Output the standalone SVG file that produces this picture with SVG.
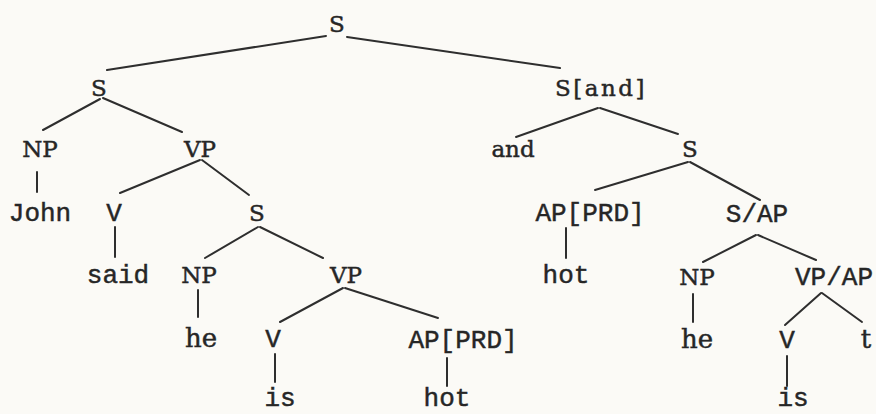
<svg xmlns="http://www.w3.org/2000/svg" width="876" height="414" viewBox="0 0 876 414">
<style>
.bg{fill:#fbfaf6}
text{fill:#262626;stroke:#262626;stroke-width:0.45;text-anchor:middle}
.s{font-family:"DejaVu Serif","Liberation Serif",serif;font-size:23px}
.sl{font-family:"DejaVu Serif","Liberation Serif",serif;font-size:26px}
.m{font-family:"Liberation Mono","DejaVu Sans Mono",monospace;font-size:26px}
#edges line{stroke:#2e2e2e;stroke-width:2;stroke-linecap:round}
</style>
<rect class="bg" x="0" y="0" width="876" height="414"/>
<g id="edges">
<line x1="326" y1="36" x2="107" y2="70"/>
<line x1="347" y1="37" x2="560" y2="68"/>
<line x1="100" y1="99" x2="43" y2="130"/>
<line x1="103" y1="98" x2="182" y2="132"/>
<line x1="598" y1="108" x2="516" y2="137"/>
<line x1="600" y1="108" x2="678" y2="134"/>
<line x1="37" y1="172" x2="37" y2="192"/>
<line x1="200" y1="160" x2="120" y2="193"/>
<line x1="202" y1="160" x2="249" y2="195"/>
<line x1="688" y1="162" x2="595" y2="190"/>
<line x1="690" y1="162" x2="760" y2="200"/>
<line x1="115" y1="227" x2="115" y2="257"/>
<line x1="258" y1="227" x2="205" y2="258"/>
<line x1="260" y1="227" x2="323" y2="258"/>
<line x1="566" y1="228" x2="566" y2="258"/>
<line x1="756" y1="235" x2="703" y2="262"/>
<line x1="758" y1="235" x2="816" y2="260"/>
<line x1="198" y1="290" x2="198" y2="317"/>
<line x1="343" y1="288" x2="280" y2="322"/>
<line x1="345" y1="288" x2="438" y2="318"/>
<line x1="693" y1="294" x2="693" y2="322"/>
<line x1="821" y1="293" x2="785" y2="325"/>
<line x1="822" y1="293" x2="862" y2="322"/>
<line x1="275" y1="354" x2="275" y2="382"/>
<line x1="447" y1="358" x2="447" y2="386"/>
<line x1="787" y1="356" x2="787" y2="386"/>
</g>
<g id="n-S-root"><text class="s" x="337" y="32">S</text></g>
<g id="n-S-left"><text class="s" x="99" y="96">S</text></g>
<g id="n-S-and"><text class="s" x="601" y="96" letter-spacing="2.5">S[and]</text></g>
<g id="n-NP-1"><text class="s" x="40" y="157">NP</text></g>
<g id="n-VP-1"><text class="s" x="200" y="157">VP</text></g>
<g id="n-and"><text class="s" x="513" y="157">and</text></g>
<g id="n-S-r3"><text class="s" x="690" y="157">S</text></g>
<g id="n-John"><text class="m" x="40" y="221">John</text></g>
<g id="n-V-1"><text class="m" x="114" y="221">V</text></g>
<g id="n-S-mid"><text class="s" x="257" y="221">S</text></g>
<g id="n-APPRD-r"><text class="m" x="590" y="221">AP[PRD]</text></g>
<g id="n-S-AP"><text class="m" x="757" y="222">S/AP</text></g>
<g id="n-said"><text class="m" x="118" y="283">said</text></g>
<g id="n-NP-2"><text class="s" x="199" y="283">NP</text></g>
<g id="n-VP-2"><text class="s" x="346" y="283">VP</text></g>
<g id="n-hot-r"><text class="m" x="566" y="283">hot</text></g>
<g id="n-NP-r"><text class="s" x="697" y="285">NP</text></g>
<g id="n-VP-AP"><text class="m" x="834" y="285">VP/AP</text></g>
<g id="n-he-l"><text class="sl" x="201" y="347">he</text></g>
<g id="n-V-2"><text class="m" x="273" y="347">V</text></g>
<g id="n-APPRD-l"><text class="m" x="463" y="348">AP[PRD]</text></g>
<g id="n-he-r"><text class="sl" x="697" y="348">he</text></g>
<g id="n-V-r"><text class="m" x="787" y="348">V</text></g>
<g id="n-t"><text class="sl" x="866" y="348">t</text></g>
<g id="n-is-l"><text class="m" x="280" y="406">is</text></g>
<g id="n-hot-l"><text class="m" x="447" y="406">hot</text></g>
<g id="n-is-r"><text class="m" x="793" y="406">is</text></g>
</svg>
